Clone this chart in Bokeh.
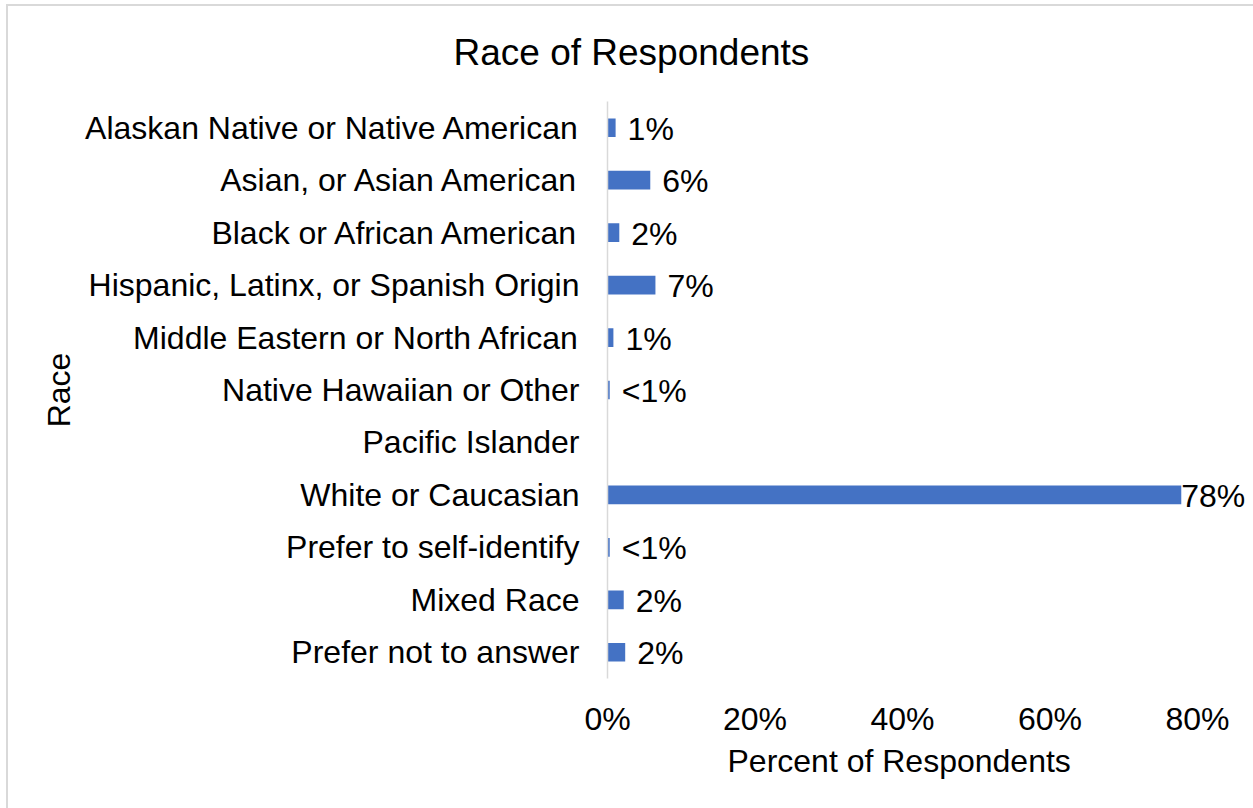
from bokeh.plotting import figure
from bokeh.models import ColumnDataSource, FactorRange, FixedTicker, LabelSet, Title, Range1d
from bokeh.core.properties import value
from bokeh.embed import file_html
from bokeh.resources import INLINE

categories = [
    "Alaskan Native or Native American",
    "Asian, or Asian American",
    "Black or African American",
    "Hispanic, Latinx, or Spanish Origin",
    "Middle Eastern or North African",
    "Native Hawaiian or Other",
    "Pacific Islander",
    "White or Caucasian",
    "Prefer to self-identify",
    "Mixed Race",
    "Prefer not to answer",
]
percent_values = [1.1, 5.8, 1.6, 6.5, 0.8, 0.3, float("nan"), 77.8, 0.3, 2.2, 2.4]
value_labels = ["1%", "6%", "2%", "7%", "1%", "<1%", "", "78%", "<1%", "2%", "2%"]
x_ticks = [0, 20, 40, 60, 80]
x_tick_labels = {0: "0%", 20: "20%", 40: "40%", 60: "60%", 80: "80%"}

FONT = "Liberation Sans"
BAR_COLOR = "#4472C4"
FRAME_GREY = "#d9d9d9"

label_offsets = [0 if (v == v and v > 50) else 12 for v in percent_values]

source = ColumnDataSource(dict(
    cat=categories,
    val=percent_values,
    lab=value_labels,
    off=label_offsets,
))

W, H = 1253, 808
PX_PER_PCT = 590 / 80.0
FRAME_RIGHT_PAD = 53  # extra room right of 80% so the 78% label is not clipped
p = figure(
    width=W, height=H,
    y_range=FactorRange(*reversed(categories)),
    x_range=Range1d(0, 80 + FRAME_RIGHT_PAD / PX_PER_PCT),
    output_backend="svg", toolbar_location=None,
    min_border_left=607, min_border_right=3,
    min_border_top=101, min_border_bottom=130,
)
# thin grey chart-area border on the left and top (drawn behind a transparent canvas)
p.styles = {
    "background-image": f"linear-gradient({FRAME_GREY}, {FRAME_GREY}), linear-gradient({FRAME_GREY}, {FRAME_GREY})",
    "background-size": "100% 2px, 2px 100%",
    "background-position": "6px 4px, 6px 4px",
    "background-repeat": "no-repeat",
}
p.outline_line_color = None
p.background_fill_color = "white"
p.border_fill_color = None

p.hbar(y="cat", left=0, right="val", height=0.356, source=source,
       fill_color=BAR_COLOR, line_color=None)

labels = LabelSet(x="val", y="cat", text="lab", source=source,
                  x_offset="off", y_offset=-1,
                  text_font=value(FONT), text_font_size="32px", text_color="black",
                  text_baseline="middle", text_align="left")
p.add_layout(labels)

p.xgrid.visible = False
p.ygrid.visible = False

xa = p.xaxis[0]
xa.ticker = FixedTicker(ticks=x_ticks)
xa.major_label_overrides = x_tick_labels
xa.axis_line_color = None
xa.major_tick_line_color = None
xa.minor_tick_line_color = None
xa.major_label_text_font = FONT
xa.major_label_text_font_size = "32px"
xa.major_label_text_color = "black"
xa.major_label_standoff = 16

ya = p.yaxis[0]
ya.axis_line_color = FRAME_GREY
ya.axis_line_width = 1.5
ya.major_tick_line_color = None
ya.minor_tick_line_color = None
ya.major_tick_out = 0
ya.major_label_text_font = FONT
ya.major_label_text_font_size = "32px"
ya.major_label_text_color = "black"
ya.major_label_standoff = 28
ya.axis_label = "Race"
ya.axis_label_text_font = FONT
ya.axis_label_text_font_size = "32px"
ya.axis_label_text_font_style = "normal"
ya.axis_label_text_color = "black"
ya.axis_label_standoff = 5

# chart title (positioned relative to the frame's left edge)
p.title = Title(text="Race of Respondents", align="left", offset=-154,
                vertical_align="middle",
                text_font=FONT, text_font_size="37px", text_font_style="normal",
                text_color="black", standoff=56)

# x-axis title, placed under the 0-80% span
x_title = Title(text="Percent of Respondents", align="left", offset=120,
                vertical_align="top", text_font=FONT, text_font_size="32px",
                text_font_style="normal", text_color="black", standoff=6)
p.add_layout(x_title, "below")

open("out.html", "w").write(file_html(p, INLINE))
